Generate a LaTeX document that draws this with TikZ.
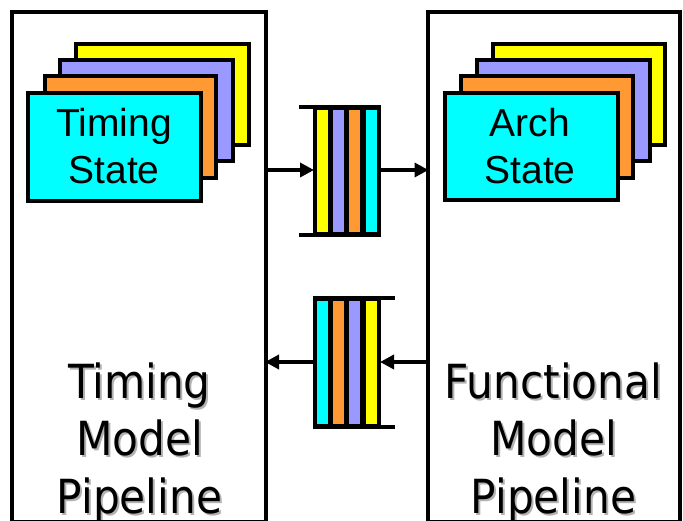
\documentclass[tikz,border=0pt]{standalone}
\usepackage{fontspec}
\setmainfont{Liberation Sans}
\newfontfamily\pipefont{DejaVu Sans Condensed}
\usetikzlibrary{arrows.meta}
\definecolor{cyanc}{HTML}{00FFFF}
\definecolor{orangec}{HTML}{FF9933}
\definecolor{purplec}{HTML}{9999FF}
\definecolor{yellowc}{HTML}{FFFF00}
\tikzset{
  pipebox/.style={draw=black, line width=4pt},
  layer/.style={draw=black, line width=4.5pt},
  fifobody/.style={fill=black, draw=black, line width=1pt},
  bar/.style={inner sep=0pt, minimum width=11pt, minimum height=122pt},
  tick/.style={line width=4pt},
  flow/.style={line width=4pt, -{Triangle[length=14pt,width=14pt]}, shorten >=-1pt},
  statetext/.style={font=\fontsize{39}{47}\selectfont, align=center, inner sep=0pt},
  pipetext/.style={font=\pipefont\fontsize{47}{57.5}\selectfont, align=center, inner sep=0pt},
}
\begin{document}
\begin{tikzpicture}[x=1pt,y=-1pt]
\useasboundingbox (0,0) rectangle (683,521);
\clip (0,0) rectangle (683,521);
% pipeline labels with shadow
\node[pipetext, text=black!30, anchor=base] (tmps) at (141.5,515) {Timing\\Model\\Pipeline};
\node[pipetext, anchor=base] (tmp) at (139.5,513) {Timing\\Model\\Pipeline};
\node[pipetext, text=black!30, anchor=base] (fmps) at (555.5,515) {Functional\\Model\\Pipeline};
\node[pipetext, anchor=base] (fmp) at (553.5,513) {Functional\\Model\\Pipeline};
% pipeline boxes
\draw[pipebox] (12,12) rectangle (266,522);
\draw[pipebox] (427.5,12) rectangle (680,522);
\coordinate (lpE1) at (266,170);
\coordinate (rpW1) at (427.5,170);
\coordinate (lpE2) at (266,362);
\coordinate (rpW2) at (427.5,362);
% left stack
\draw[layer, fill=yellowc] (76,44) rectangle (249,145);
\draw[layer, fill=purplec] (60,60) rectangle (233,161);
\draw[layer, fill=orangec] (45,76) rectangle (216,178);
\draw[layer, fill=cyanc] (28,93) rectangle (201,201);
\node[statetext, anchor=base] (ts) at (114,184) {Timing\\State};
% right stack
\draw[layer, fill=yellowc] (493,44) rectangle (665,145);
\draw[layer, fill=purplec] (477,60) rectangle (650,161);
\draw[layer, fill=orangec] (461,76) rectangle (633,178);
\draw[layer, fill=cyanc] (445,93) rectangle (618,200);
\node[statetext, anchor=base] (as) at (530,184) {Arch\\State};
% top fifo
\node[fifobody, inner sep=0pt, minimum width=67pt, minimum height=131pt] (f1) at (347,171) {};
\node[bar, fill=yellowc] (f1a) at (322.5,171) {};
\node[bar, fill=purplec] (f1b) at (338.5,171) {};
\node[bar, fill=orangec] (f1c) at (354.5,171) {};
\node[bar, fill=cyanc] (f1d) at (371,171) {};
\draw[tick] (f1.north west) ++(0,2) -- ++(-14,0);
\draw[tick] (f1.south west) ++(0,-2) -- ++(-14,0);
% bottom fifo
\node[fifobody, inner sep=0pt, minimum width=67pt, minimum height=131pt] (f2) at (347,362.5) {};
\node[bar, fill=cyanc] (f2a) at (322.5,362.5) {};
\node[bar, fill=orangec] (f2b) at (338.5,362.5) {};
\node[bar, fill=purplec] (f2c) at (354.5,362.5) {};
\node[bar, fill=yellowc] (f2d) at (371,362.5) {};
\draw[tick] (f2.north east) ++(0,2) -- ++(14,0);
\draw[tick] (f2.south east) ++(0,-2) -- ++(14,0);
% arrows
\draw[flow] (lpE1) -- (f1.west |- lpE1);
\draw[flow] (f1.east |- rpW1) -- (rpW1);
\draw[flow] (rpW2) -- (f2.east |- rpW2);
\draw[flow] (f2.west |- lpE2) -- (lpE2);
\end{tikzpicture}
\end{document}
